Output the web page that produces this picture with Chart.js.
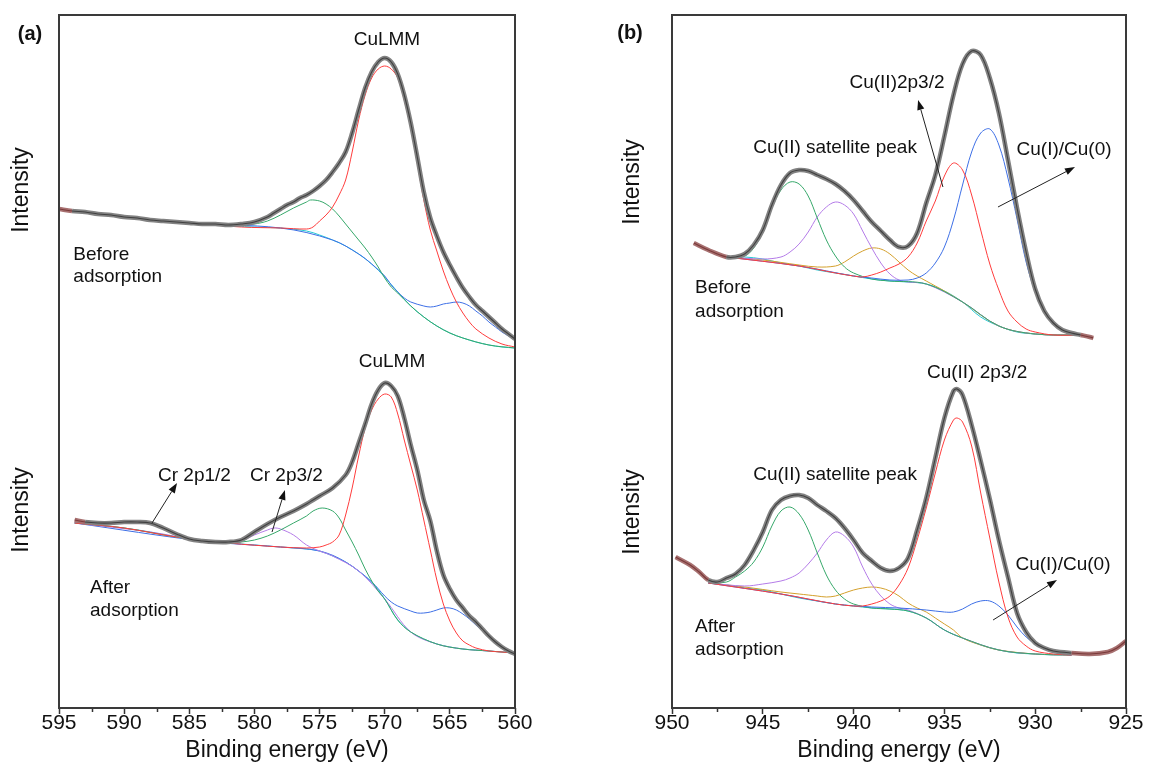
<!DOCTYPE html>
<html><head><meta charset="utf-8">
<script src="https://cdn.jsdelivr.net/npm/chart.js@4.4.0/dist/chart.umd.min.js"></script>
<style>
html,body{margin:0;padding:0;background:#fff;width:1149px;height:780px;overflow:hidden}
canvas{position:absolute;top:0}
#ca{left:0}
#cb{left:575px}
</style></head><body>
<canvas id="ca" width="560" height="780"></canvas>
<canvas id="cb" width="574" height="780"></canvas>
<script>
// ---------------- DATA (binding energy eV, intensity a.u.) ----------------
// Panel (a) Cu LMM, before adsorption
const aTopRaw = [[595,499],[594,497],[593,496],[592,494],[591,493],[590,491],[589,490],[588,488],[587,487],[586,486],[585,485],[584,484],[583,484],[582,483],[581,484],[580,486],[579,491],[578.5,495],[578,499],[577.5,503],[577,506],[576.5,510],[576,513],[575.5,517],[575,522],[574.5,528],[574,536],[573.5,545],[573,556],[572.5,575],[572,598],[571.5,620],[571,636],[570.5,646],[570,650],[569.5,646],[569,634],[568.5,613],[568,585],[567.5,551],[567,516],[566.5,490],[566,472],[565.5,456],[565,443],[564.5,431],[564,420],[563.5,411],[563,403],[562.5,397],[562,391],[561.5,385],[561,379],[560.5,374],[560,369]];
const aTopRed = [[595,498],[590,491],[585,485],[581,481],[578,480],[576,479],[575.5,481],[575,487],[574.5,493],[574,501],[573.5,513],[573,528],[572.5,556],[572,588],[571.5,613],[571,630],[570.5,639],[570,642],[569.5,639],[569,630],[568.5,608],[568,580],[567.5,545],[567,508],[566.5,478],[566,457],[565.5,437],[565,420],[564.5,406],[564,395],[563.5,386],[563,379],[562,370],[561,364],[560,361]];
const aTopGreen = [[595,498],[590,491],[585,485],[582,483],[581,483],[580,484],[579,487],[578,493],[577,500],[576,506],[575.7,508],[575,507],[574.5,504],[574,499],[573.5,492],[573,484],[572.5,476],[572,468],[571.5,460],[571,451],[570.5,441],[570,430],[569.5,421],[569,415],[568,402],[567,391],[566,382],[565,375],[564,370],[562,363],[560,360]];
const aTopBlue = [[595,498],[585,485],[578,480],[574,468],[572,454],[571,444],[570,432],[569.5,423],[569,416],[568.5,410],[568,406],[567,402],[566.5,401],[566,402],[565.5,404],[565,405],[564.5,406],[564,405],[563.5,402],[563,397],[562.5,392],[562,386],[561.5,381],[561,376],[560.5,372],[560,368]];
const aTopBase = [[595,498],[592,494],[589,490],[586,486],[583,483],[580,481],[578,480],[576,477],[575,473],[574,468],[573,462],[572,454],[571,444],[570,431],[569,416],[568,402],[567,391],[566,382],[565,375],[564,370],[563,366],[562,363],[561,361],[560,360]];
// Panel (a) after adsorption
const aBotRaw = [[593.8,188],[593,186],[592,185],[591,185],[590,186],[589,186],[588,185],[587,180],[586,174],[585,169],[584,167],[583,166],[582,166],[581,168],[580,176],[579,184],[578,191],[577,197],[576,204],[575.5,208],[575,212],[574,220],[573,233],[572.5,246],[572,265],[571.5,284],[571,304],[570.5,318],[570,325],[569.5,322],[569,312],[568.5,290],[568,263],[567.5,238],[567,208],[566.5,187],[566,157],[565.5,133],[565,119],[564.5,108],[564,100],[563.5,92],[563,86],[562.5,79],[562,72],[561.5,66],[561,61],[560.5,57],[560,54]];
const aBotRed = [[593.8,185],[590,180],[586,171],[582,165],[578,161],[576,160],[575,161],[574.5,163],[574,166],[573.5,173],[573,193],[572.5,220],[572,252],[571.5,280],[571,298],[570.5,309],[570,314],[569.5,311],[569,294],[568.5,268],[568,243],[567.5,218],[567,188],[566.5,158],[566,128],[565.5,104],[565,87],[564.5,75],[564,67],[563.5,63],[563,60],[562,57],[561,56],[560,55]];
const aBotGreen = [[593.8,185],[590,180],[586,171],[582,165],[581,166],[580,168],[579,172],[578,178],[577,185],[576,192],[575.5,197],[574.8,200],[574,197],[573.5,190],[573,178],[572.5,166],[572,153],[571.5,139],[571,127],[570.5,117],[570,109],[569,88],[568,76],[566,64],[564,59],[562,57],[560,55]];
const aBotPurple = [[593.8,185],[588,176],[584,167],[582,165],[581,167],[580,173],[579,178],[578.5,180],[578,179],[577,173],[576,163],[575,157],[574,152],[572,137],[570,109],[568,76],[566,64],[564,59],[562,57],[560,55]];
const aBotBlue = [[593.8,185],[584,167],[578,161],[575,157],[573,146],[571,126],[570,112],[569.5,106],[569,102],[568,97],[567.5,95],[567,95],[566.5,96],[566,98],[565.5,100],[565,100],[564.5,98],[564,94],[563.5,89],[563,83],[562.5,77],[562,70],[561.5,65],[561,60],[560.5,57],[560,55]];
const aBotBase = [[593.8,185],[592,183],[590,180],[588,176],[586,171],[584,167],[582,165],[580,163],[578,161],[576,159],[575,157],[574,152],[573,146],[572,137],[571,126],[570,109],[569,88],[568,76],[567,69],[566,64],[565,61],[564,59],[563,58],[562,57],[561,56],[560,55]];
// Panel (b) Cu 2p3/2, before adsorption
const bTopRaw = [[948.8,465],[948,458],[947,451],[946.5,451],[946,454],[945.5,463],[945,478],[944.5,503],[944,523],[943.5,535],[943,538],[942.5,537],[942,533],[941.5,529],[941,524],[940.5,517],[940,508],[939.5,497],[939,486],[938.5,477],[938,468],[937.5,461],[937,462],[936.5,475],[936,505],[935.5,533],[935,572],[934.5,613],[934,644],[933.5,657],[933,653],[932.5,630],[932,595],[931.5,548],[931,500],[930.5,456],[930,419],[929.5,397],[929,385],[928.5,378],[928,375],[927.5,373],[927,371],[926.8,370]];
const bTopRed = [[947,451],[943,442],[941,435],[940,432],[939.5,431],[939,433],[938.5,436],[938,440],[937.5,444],[937,451],[936.5,465],[936,487],[935.5,507],[935,532],[934.5,545],[934,538],[933.5,513],[933,478],[932.5,444],[932,418],[931.5,397],[931,386],[930.5,379],[930,376],[929,373],[927.5,373]];
const bTopBlue = [[947,451],[943,442],[940,432],[939,430],[938,428],[937,428],[936.5,430],[936,435],[935.5,445],[935,461],[934.5,488],[934,523],[933.5,556],[933,575],[932.5,579],[932,563],[931.5,530],[931,489],[930.5,446],[930,416],[929.5,396],[929,385],[928.5,377],[928,374],[927.5,373]];
const bTopGreen = [[947,451],[946,452],[945.5,460],[945,476],[944.5,500],[944,518],[943.5,526],[943,524],[942.5,512],[942,490],[941.5,468],[941,452],[940.5,441],[940,435],[939,429],[938,427],[936,424],[934,406],[932,382],[930,374],[927.5,373]];
const bTopPurple = [[947,451],[945,449],[944,451],[943.5,456],[943,464],[942.5,476],[942,491],[941.5,501],[941,506],[940.5,503],[940,494],[939.5,477],[939,460],[938.5,445],[938,434],[937.5,428],[937,426],[936,424],[934,406],[932,382],[930,374],[927.5,373]];
const bTopOrange = [[947,451],[945,448],[943,443],[942,441],[941,442],[940.5,446],[940,452],[939.5,457],[939,460],[938.5,459],[938,454],[937.5,446],[937,438],[936.5,432],[936,427],[935.5,422],[935,417],[934,406],[932,382],[930,374],[927.5,373]];
const bTopBase = [[947,451],[946,451],[945,449],[944,445],[943,442],[942,438],[941,435],[940,432],[939,429],[938,427],[937,426],[936,424],[935,417],[934,406],[933,391],[932,382],[931,376],[930,374],[929,373],[927.5,373]];
// Panel (b) after adsorption
const bBotRaw = [[949.8,151],[949,143],[948.5,136],[948,128],[947.5,126],[947,130],[946.5,134],[946,143],[945.5,158],[945,176],[944.5,198],[944,208],[943.5,212],[943,213],[942.5,210],[942,203],[941.5,197],[941,190],[940.5,180],[940,168],[939.5,155],[939,147],[938.5,140],[938,137],[937.5,140],[937,150],[936.5,178],[936,210],[935.5,250],[935,290],[934.5,317],[934.3,319],[934,313],[933.5,283],[933,247],[932.5,209],[932,168],[931.5,131],[931,95],[930.5,76],[930,65],[929.5,60],[929,57],[928,55],[927,54],[926,56],[925.5,60],[925,67]];
const bBotRed = [[948,125],[944,114],[941,104],[940,102],[939.5,102],[939,104],[938.5,107],[938,112],[937.5,123],[937,140],[936.5,168],[936,200],[935.5,235],[935,268],[934.5,288],[934.3,290],[934,286],[933.5,262],[933,215],[932.5,170],[932,126],[931.5,91],[931,71],[930.5,62],[930,57],[929,54],[928,53]];
const bBotGreen = [[948,125],[947,126],[946.5,131],[946,137],[945.5,146],[945,161],[944.5,182],[944,197],[943.5,201],[943,194],[942.5,178],[942,155],[941.5,133],[941,118],[940.5,109],[940,104],[939,100],[938,99],[937,97],[936,90],[935,78],[934,70],[932,58],[930,54],[928,53]];
const bBotPurple = [[948,125],[946,122],[945,124],[944,127],[943.5,130],[943,135],[942.5,144],[942,155],[941.5,168],[941,176],[940.5,172],[940,161],[939.5,141],[939,124],[938.5,112],[938,104],[937.5,100],[937,98],[936,90],[935,78],[934,70],[932,58],[930,54],[928,53]];
const bBotOrange = [[948,125],[946,121],[944,116],[943,114],[942.5,113],[942,112],[941.5,111],[941,112],[940.5,115],[940,118],[939.5,120],[939,121],[938.5,120],[938,117],[937.5,112],[937,105],[936.5,100],[936,96],[935.5,90],[935,84],[934.5,78],[934,70],[933,63],[932,58],[930,54],[928,53]];
const bBotBlue = [[948,125],[944,114],[941,104],[939,101],[937.5,100],[936,98],[935,96],[934.5,96],[934,99],[933.5,104],[933,107],[932.5,107],[932,102],[931.5,93],[931,81],[930.5,71],[930,64],[929.5,59],[929,56],[928.5,54],[928,53]];
const bBotBase = [[948,125],[947,123],[946,120],[945,118],[944,114],[943,110],[942,107],[941,104],[940,102],[939,100],[938,99],[937,97],[936,90],[935,78],[934,70],[933,63],[932,58],[931,55],[930,54],[929,53],[928,53]];
// fitted energy windows of each raw spectrum (outside: raw drawn brown)
const aTopFit = [560, 594.3];
const aBotFit = [560, 593.0];
const bTopFit = [927.5, 947.0];
const bBotFit = [927.9, 948.0];
// axis ranges and tick values
const aRange = [560, 595];
const bRange = [925, 950];
const aMinorTicks = [592.5, 587.5, 582.5, 577.5, 572.5, 567.5, 562.5];
const bMinorTicks = [947.5, 942.5, 937.5, 932.5, 927.5];
const xTitle = 'Binding energy (eV)';
const yTitle = 'Intensity';

// ---------------- STYLE ----------------
const FONT = '"Liberation Sans", Arial, Helvetica, sans-serif';
const C = {red:'#ff3c3c', green:'#36a86a', blue:'#3d6fe6', cyan:'#25c9d4', purple:'#b47be8', orange:'#d4a02c',
           raw:'#404040', band:'#828282', brown:'#7a3a3a', brownBand:'#a77070'};

const toXY = arr => arr.map(p => ({x: p[0], y: p[1]}));

function rawSets(data, fit) {
  const out = (ctx) => {
    const a = ctx.p0.parsed.x, b = ctx.p1.parsed.x;
    return (a < fit[0] || a > fit[1] || b < fit[0] || b > fit[1]);
  };
  return [
    {data: toXY(data), borderColor: C.raw, borderWidth: 1.1,
     segment: {borderColor: c => out(c) ? C.brown : C.raw}},
    {data: toXY(data), borderColor: C.band, borderWidth: 4.5,
     segment: {borderColor: c => out(c) ? C.brownBand : C.band}}
  ];
}
const line = (data, color) => ({data: toXY(data), borderColor: color, borderWidth: 1});

const deco = {
  id: 'deco',
  afterDraw(chart, args, o) {
    const {ctx, chartArea: a, scales: {x, y}} = chart;
    ctx.save();
    ctx.strokeStyle = '#3a3a3a'; ctx.lineWidth = 2;
    ctx.strokeRect(a.left, a.top, a.right - a.left, a.bottom - a.top);
    ctx.lineWidth = 1.5; ctx.strokeStyle = '#333';
    o.minor.forEach(v => {
      const px = Math.round(x.getPixelForValue(v)) + 0.5;
      ctx.beginPath(); ctx.moveTo(px, a.bottom + 1); ctx.lineTo(px, a.bottom + 4); ctx.stroke();
    });
    ctx.fillStyle = '#111';
    ctx.font = '19px ' + FONT; ctx.textBaseline = 'middle';
    o.texts.forEach(t => {
      ctx.textAlign = t[3];
      ctx.fillText(t[0], x.getPixelForValue(t[1]), y.getPixelForValue(t[2]));
    });
    ctx.strokeStyle = '#222'; ctx.lineWidth = 1;
    o.arrows.forEach(ar => {
      const x0 = x.getPixelForValue(ar[0]), y0 = y.getPixelForValue(ar[1]);
      const x1 = x.getPixelForValue(ar[2]), y1 = y.getPixelForValue(ar[3]);
      const ang = Math.atan2(y1 - y0, x1 - x0), L = 10, W = 3.6;
      const bx = x1 - L * Math.cos(ang), by = y1 - L * Math.sin(ang);
      ctx.beginPath(); ctx.moveTo(x0, y0); ctx.lineTo(bx, by); ctx.stroke();
      ctx.beginPath(); ctx.moveTo(x1, y1);
      ctx.lineTo(bx + W * Math.sin(ang), by - W * Math.cos(ang));
      ctx.lineTo(bx - W * Math.sin(ang), by + W * Math.cos(ang));
      ctx.closePath(); ctx.fillStyle = '#111'; ctx.fill();
    });
    ctx.font = '23px ' + FONT; ctx.textAlign = 'center'; ctx.fillStyle = '#111';
    o.ylabels.forEach(p => {
      ctx.save(); ctx.translate(p[0], p[1]); ctx.rotate(-Math.PI / 2);
      ctx.fillText(yTitle, 0, 0); ctx.restore();
    });
    ctx.font = 'bold 20px ' + FONT;
    ctx.fillText(o.letter[0], o.letter[1], o.letter[2]);
    ctx.restore();
  }
};

function makeChart(id, range, datasets, pad, o) {
  return new Chart(document.getElementById(id), {
    type: 'line',
    data: {datasets: datasets.map(d => Object.assign({pointRadius: 0, fill: false, tension: 0.35}, d))},
    options: {
      responsive: false, animation: false, devicePixelRatio: 1,
      layout: {padding: {left: pad[0], right: pad[1], top: 15, bottom: 0}},
      plugins: {legend: {display: false}, tooltip: {enabled: false}, deco: o},
      scales: {
        x: {type: 'linear', reverse: true, min: range[0], max: range[1],
          afterFit: s => { s.height = 72; },
          ticks: {stepSize: 5, autoSkip: false, maxRotation: 0, padding: -1, color: '#111',
            font: {family: FONT, size: 21, lineHeight: 1}, callback: v => String(v)},
          grid: {display: true, drawOnChartArea: false, drawTicks: true, tickLength: 6, tickColor: '#333', tickWidth: 1.5},
          border: {display: false},
          title: {display: true, text: xTitle, color: '#111', font: {family: FONT, size: 23, lineHeight: 1}, padding: {top: 0, bottom: 18}}
        },
        y: {display: false, min: 0, max: 693}
      }
    },
    plugins: [deco]
  });
}

makeChart('ca', aRange, [
  ...rawSets(aTopRaw, aTopFit),
  ...rawSets(aBotRaw, aBotFit),
  line(aTopRed, C.red), line(aTopGreen, C.green), line(aTopBlue, C.blue), line(aTopBase, C.cyan),
  line(aBotRed, C.red), line(aBotGreen, C.green), line(aBotPurple, C.purple), line(aBotBlue, C.blue), line(aBotBase, C.cyan)
], [59, 45], {
  minor: aMinorTicks,
  texts: [['CuLMM', 569.83, 668, 'center'], ['CuLMM', 569.44, 346, 'center'],
          ['Before', 593.9, 453, 'left'], ['adsorption', 593.9, 431, 'left'],
          ['After', 592.62, 120, 'left'], ['adsorption', 592.62, 97, 'left'],
          ['Cr 2p1/2', 587.4, 232, 'left'], ['Cr 2p3/2', 580.34, 232, 'left']],
  arrows: [[587.86, 185, 585.94, 225], [578.65, 176, 577.66, 218]],
  ylabels: [[22, 190], [22, 510]],
  letter: ['(a)', 30, 34]
});

makeChart('cb', bRange, [
  ...rawSets(bTopRaw, bTopFit),
  ...rawSets(bBotRaw, bBotFit),
  line(bTopRed, C.red), line(bTopBlue, C.blue), line(bTopGreen, C.green), line(bTopPurple, C.purple), line(bTopOrange, C.orange), line(bTopBase, C.cyan),
  line(bBotRed, C.red), line(bBotBlue, C.blue), line(bBotGreen, C.green), line(bBotPurple, C.purple), line(bBotOrange, C.orange), line(bBotBase, C.cyan)
], [97, 23], {
  minor: bMinorTicks,
  texts: [['Cu(II)2p3/2', 937.61, 625, 'center'], ['Cu(II) satellite peak', 941.02, 560, 'center'],
          ['Cu(I)/Cu(0)', 928.41, 558, 'center'], ['Before', 948.73, 420, 'left'], ['adsorption', 948.73, 396, 'left'],
          ['Cu(II) 2p3/2', 933.2, 335, 'center'], ['Cu(II) satellite peak', 941.02, 233, 'center'],
          ['Cu(I)/Cu(0)', 928.47, 143, 'center'], ['After', 948.73, 81, 'left'], ['adsorption', 948.73, 58, 'left']],
  arrows: [[935.08, 521, 936.45, 608], [932.05, 501, 927.81, 541], [932.32, 88, 928.8, 128]],
  ylabels: [[58, 182], [58, 512]],
  letter: ['(b)', 55, 33]
});
</script>
</body></html>
